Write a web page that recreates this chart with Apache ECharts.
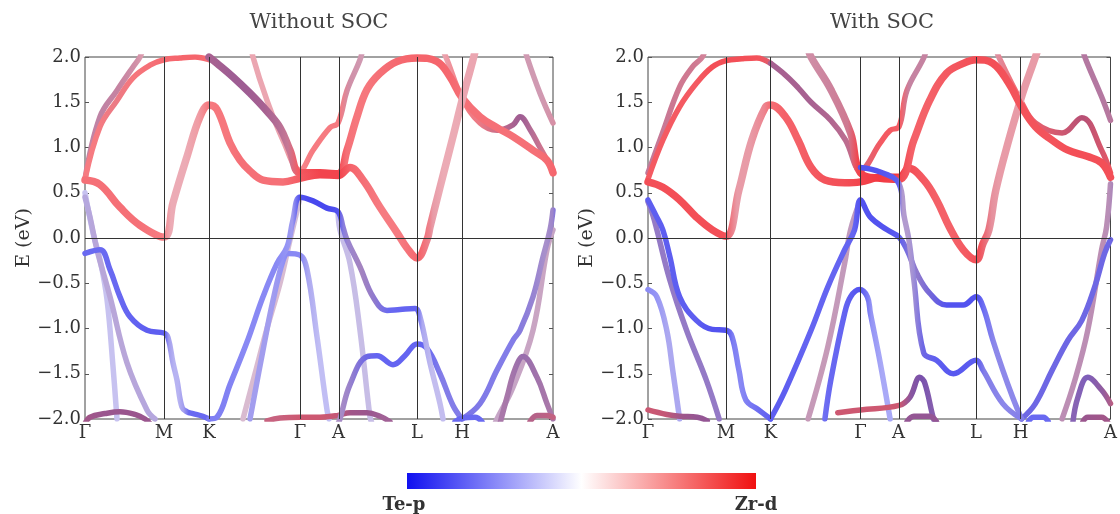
<!DOCTYPE html>
<html><head><meta charset="utf-8">
<script src="https://cdn.jsdelivr.net/npm/echarts@6/dist/echarts.min.js"></script>
<style>html,body{margin:0;padding:0;background:#fff}#c{width:1120px;height:514px}</style>
</head><body><div id="c"></div>
<script>
// ---- axis data ----
const kTicks = [0, 0.79, 1.24, 2.15, 2.535, 3.32, 3.77, 4.68];
const kLabels = ['Γ','M','K','Γ','A','L','H','A'];
const eTicks = [-2, -1.5, -1, -0.5, 0, 0.5, 1, 1.5, 2];
const panelTitles = ['Without SOC', 'With SOC'];
const colorbarLabels = ['Te-p', 'Zr-d'];
const yName = 'E (eV)';
// each point: [k, E (eV), Zr-d weight (0 = Te-p, 1 = Zr-d), intensity]

// ---- Without SOC ----
const n_redLow = [[0,0.64,1,.65],[0.15,0.59,1,.65],[0.35,0.34,1,.65],[0.55,0.14,1,.65],[0.79,0.01,1,.6],
 [0.88,0.39,.9,.38],[1.02,0.9,.9,.38],[1.15,1.34,.95,.45],[1.24,1.47,1,.6],
 [1.32,1.42,1,.62],[1.45,1.05,1,.62],[1.55,0.86,1,.65],[1.65,0.74,1,.65],[1.78,0.64,1,.65],[1.98,0.62,1,.65],[2.15,0.66,1,.75],
 [2.35,0.70,1,.85],[2.53,0.69,1,.85],[2.65,0.78,1,.7],[2.78,0.64,1,.65],[2.95,0.34,1,.6],[3.12,0.06,1,.6],[3.22,-0.11,1,.65],[3.32,-0.22,1,.7],
 [3.42,-0.02,.95,.55],[3.45,0.12,.9,.45],[3.55,0.56,.9,.38],[3.68,1.12,.9,.38],[3.77,1.52,.9,.4],[3.88,1.97,.9,.4],[3.92,2.15,.9,.4]];
const n_purpleTop = [[1.24,2.0,.6,.7],[1.32,1.93,.6,.7],[1.48,1.78,.55,.72],[1.65,1.6,.55,.72],[1.82,1.4,.6,.7],[1.95,1.22,.65,.65],[2.05,0.97,.75,.6],
 [2.15,0.72,1,.75],[2.35,0.72,1,.85],[2.53,0.71,1,.85],[2.62,0.97,1,.65],[2.72,1.34,1,.62],[2.82,1.64,1,.62],[2.95,1.82,1,.65],[3.12,1.95,1,.68],
 [3.32,1.99,1,.7],[3.52,1.95,1,.7],[3.65,1.78,1,.68],[3.77,1.55,1,.65],[3.95,1.34,1,.65],[4.12,1.22,1,.65],[4.28,1.12,1,.65],[4.48,0.97,1,.65],[4.62,0.86,1,.68],[4.68,0.72,1,.7]];
const n_pinkGamma = [[1.66,2.15,.9,.4],[1.68,2.0,.9,.4],[1.82,1.52,.9,.4],[1.98,1.08,.9,.42],[2.15,0.75,1,.55],[2.28,0.97,1,.6],[2.45,1.22,1,.6],[2.53,1.27,1,.6],[2.62,1.63,.75,.5],[2.75,1.97,.7,.45],[2.78,2.1,.7,.45]];
const n_redGM = [[0,0.65,1,.6],[0.15,1.23,1,.6],[0.32,1.52,.95,.6],[0.48,1.77,1,.62],[0.65,1.91,1,.65],[0.79,1.97,1,.68],[0.95,1.99,1,.7],[1.1,2.0,1,.7],[1.24,1.97,1,.65]];
const n_steepGM = [[0,0.65,.7,.55],[0.15,1.34,.65,.55],[0.32,1.63,.7,.55],[0.48,1.89,.75,.5],[0.55,2.0,.8,.45],[0.58,2.1,.8,.45]];
const n_hBump = [[3.55,2.15,.9,.4],[3.62,1.97,.9,.42],[3.77,1.55,1,.6],[3.95,1.27,.95,.6],[4.12,1.19,.8,.65],[4.28,1.25,.6,.7],[4.35,1.34,.55,.72],[4.45,1.2,.65,.65],[4.55,1.0,.8,.62],[4.68,0.75,1,.65]];
const n_topRight = [[4.4,2.1,.7,.45],[4.42,2.0,.7,.45],[4.55,1.6,.7,.45],[4.68,1.27,.8,.5]];
const n_blueB = [[0,-0.17,0,.7],[0.15,-0.13,0,.7],[0.25,-0.35,0,.7],[0.35,-0.65,0,.7],[0.45,-0.87,0,.72],[0.62,-1.02,0,.75],[0.79,-1.05,0,.75],
 [0.83,-1.1,.05,.45],[0.88,-1.38,.05,.35],[0.92,-1.57,.05,.35],[0.97,-1.87,.05,.45],[1.02,-1.92,0,.7],[1.08,-1.94,0,.7],[1.18,-1.97,0,.7],[1.24,-2.0,0,.7]];
const n_blueMain = [[1.24,-2.0,0,.6],[1.32,-1.98,0,.6],[1.45,-1.62,0,.58],[1.62,-1.15,0,.55],[1.78,-0.65,0,.55],[1.92,-0.28,0,.55],[2.02,-0.1,0,.5],[2.08,0.2,.05,.45],
 [2.15,0.45,0,.8],[2.28,0.41,0,.85],[2.42,0.33,0,.85],[2.53,0.29,0,.8],[2.58,0.12,.1,.6],[2.62,-0.02,.2,.55],[2.75,-0.32,.35,.55],[2.88,-0.65,.2,.6],
 [3.02,-0.8,0,.7],[3.15,-0.79,0,.72],[3.30,-0.78,0,.72],[3.35,-0.87,.05,.4],[3.45,-1.38,.1,.3],[3.55,-1.83,.1,.3],[3.58,-2.0,.1,.3]];
const n_gammaDome = [[1.65,-2.0,.05,.45],[1.78,-1.24,.05,.45],[1.88,-0.69,.05,.45],[1.98,-0.25,0,.5],[2.03,-0.17,0,.55],[2.15,-0.19,0,.55],[2.22,-0.35,.05,.4],[2.32,-1.09,.05,.3],[2.42,-1.9,.05,.3],[2.44,-2.0,.05,.3]];
const n_faintKG = [[1.58,-2.0,.6,.3],[1.7,-1.5,.6,.3],[1.82,-1.0,.6,.3],[1.95,-0.5,.6,.3],[2.05,-0.02,.5,.3],[2.12,0.3,.4,.3],[2.15,0.45,.3,.3]];
const n_lightG1 = [[0,0.5,.1,.28],[0.08,0.06,.1,.28],[0.15,-0.24,.1,.28],[0.22,-0.68,.1,.28],[0.28,-1.42,.1,.28],[0.32,-2.0,.1,.28]];
const n_lightG2 = [[0,0.45,.2,.4],[0.05,0.23,.2,.4],[0.12,-0.13,.25,.4],[0.25,-0.65,.25,.4],[0.42,-1.38,.25,.4],[0.62,-1.9,.2,.4],[0.70,-2.0,.2,.4]];
const n_purpleBottomGM = [[0,-2.05,.6,.75],[0.05,-1.98,.6,.75],[0.2,-1.94,.55,.75],[0.35,-1.92,.55,.75],[0.5,-1.95,.55,.75],[0.6,-2.0,.55,.75],[0.65,-2.05,.55,.75]];
const n_redBottomGA = [[1.82,-2.02,.8,.7],[1.95,-1.99,.8,.7],[2.15,-1.98,.85,.75],[2.35,-1.98,.85,.75],[2.53,-1.96,.8,.75],[2.65,-1.93,.6,.75],[2.82,-1.93,.55,.75],[2.95,-1.97,.55,.7],[3.05,-2.03,.55,.7]];
const n_blueAL = [[2.53,-2.05,.35,.5],[2.55,-2.0,.35,.5],[2.65,-1.62,.25,.55],[2.82,-1.31,.05,.7],[2.92,-1.3,0,.72],[3.08,-1.4,0,.72],[3.2,-1.3,0,.72],[3.32,-1.17,0,.72],[3.42,-1.22,0,.7],[3.55,-1.5,.05,.6],[3.68,-1.85,.05,.6],[3.77,-2.0,.05,.6]];
const n_lightA = [[2.53,0.29,.1,.3],[2.55,0.09,.15,.3],[2.65,-0.28,.2,.3],[2.75,-1.02,.2,.3],[2.85,-1.98,.2,.3],[2.87,-2.05,.2,.3]];
const n_blueHA = [[3.77,-2.0,.05,.65],[3.95,-1.83,.05,.62],[4.12,-1.46,.05,.6],[4.28,-1.13,.05,.6],[4.35,-1.02,.1,.6],[4.48,-0.65,.2,.55],[4.58,-0.21,.3,.5],[4.65,0.09,.25,.55],[4.68,0.31,.1,.65]];
const n_purpleHA = [[4.1,-2.05,.5,.4],[4.12,-2.0,.5,.4],[4.28,-1.65,.5,.4],[4.48,-1.02,.55,.4],[4.62,-0.13,.55,.4],[4.68,0.09,.5,.4]];
const n_bumpHA = [[4.15,-2.05,.5,.6],[4.22,-1.76,.5,.6],[4.3,-1.45,.45,.62],[4.38,-1.31,.4,.65],[4.52,-1.54,.45,.62],[4.62,-1.83,.5,.6],[4.68,-2.0,.5,.6]];
const n_bottomH = [[3.7,-2.03,0,.7],[3.77,-1.99,0,.7],[3.9,-1.98,0,.7],[3.97,-2.03,0,.7]];
const n_bottomA = [[4.45,-2.03,.7,.7],[4.52,-1.96,.7,.7],[4.62,-1.96,.75,.7],[4.68,-1.98,.8,.7]];

// ---- With SOC ----
const s_redLow = [[0,0.62,1,.8],[0.15,0.56,1,.8],[0.32,0.42,1,.8],[0.49,0.23,1,.8],[0.65,0.09,1,.8],[0.79,0.02,1,.8],[0.92,0.53,.9,.45],[1.05,1.08,.9,.45],[1.19,1.45,.95,.55],[1.24,1.47,1,.65],
 [1.39,1.34,1,.72],[1.52,1.08,1,.72],[1.65,0.78,1,.75],[1.79,0.64,1,.78],[1.99,0.61,1,.8],[2.15,0.62,1,.85],[2.35,0.67,1,.9],[2.54,0.67,1,.9],[2.64,0.77,1,.8],[2.79,0.64,1,.75],
 [2.92,0.42,1,.72],[3.05,0.12,1,.72],[3.19,-0.13,1,.75],[3.32,-0.24,1,.8],[3.39,-0.06,.95,.65],[3.45,0.09,.9,.5],[3.52,0.53,.9,.45],[3.65,1.08,.9,.45],[3.78,1.56,.9,.45],[3.92,2.0,.9,.45],[3.95,2.1,.9,.45]];
const s_blueSoc = [[2.15,0.78,0,.8],[2.35,0.73,0,.8],[2.54,0.6,0,.75],[2.59,0.25,.3,.45],[2.64,-0.02,.3,.45],[2.69,-0.46,.2,.5],[2.79,-1.27,.05,.7],[2.92,-1.35,0,.75],[3.09,-1.5,0,.78],[3.32,-1.35,0,.75],[3.39,-1.46,.05,.6],[3.59,-1.83,.05,.55],[3.78,-2.0,.05,.6]];
const s_purpleKG = [[1.24,1.93,.6,.7],[1.39,1.8,.6,.7],[1.52,1.66,.6,.7],[1.65,1.5,.6,.7],[1.85,1.3,.65,.68],[2.0,1.08,.7,.65],[2.15,0.75,.9,.7],[2.35,1.05,1,.75],[2.45,1.19,1,.75],[2.54,1.23,1,.72],[2.62,1.63,.7,.55],[2.79,1.99,.7,.55],[2.82,2.1,.7,.55]];
const s_dome = [[1.62,2.1,.75,.5],[1.65,2.0,.75,.5],[1.85,1.64,.75,.55],[2.05,1.16,.8,.6],[2.15,0.72,1,.85],[2.35,0.66,1,.9],[2.54,0.65,1,.85],[2.69,1.08,1,.72],[2.85,1.52,1,.72],[3.02,1.82,1,.75],[3.19,1.93,1,.78],
 [3.32,1.97,1,.8],[3.49,1.93,1,.8],[3.65,1.71,1,.78],[3.78,1.45,1,.78],[3.92,1.23,1,.78],[4.09,1.08,1,.78],[4.25,0.97,1,.8],[4.45,0.9,1,.8],[4.59,0.83,1,.8],[4.68,0.67,1,.8]];
const s_redGM = [[0,0.65,1,.75],[0.15,1.08,1,.75],[0.32,1.45,1,.75],[0.49,1.71,1,.75],[0.65,1.89,1,.8],[0.79,1.96,1,.8],[0.95,1.98,1,.8],[1.1,1.99,1,.78],[1.24,1.93,.9,.72]];
const s_steepGM = [[0,0.72,.7,.6],[0.15,1.17,.75,.6],[0.32,1.67,.8,.6],[0.45,1.89,.8,.6],[0.55,2.0,.8,.55],[0.58,2.1,.8,.55]];
const s_hBump = [[3.52,2.1,.85,.5],[3.55,2.0,.85,.5],[3.78,1.5,1,.7],[3.92,1.27,.95,.72],[4.19,1.16,.85,.75],[4.39,1.33,.75,.78],[4.59,0.97,.9,.75],[4.68,0.72,1,.78]];
const s_topRight = [[4.40,2.1,.6,.6],[4.42,2.0,.6,.6],[4.59,1.56,.6,.6],[4.68,1.3,.65,.6]];
const s_blueGM = [[0,0.42,0,.75],[0.08,0.25,0,.75],[0.15,0.09,0,.75],[0.22,-0.2,0,.75],[0.32,-0.65,0,.75],[0.49,-0.91,0,.75],[0.65,-1.01,0,.8],[0.79,-1.02,0,.8],
 [0.85,-1.09,0,.6],[0.92,-1.46,0,.55],[0.99,-1.79,0,.6],[1.12,-1.9,0,.7],[1.24,-2.0,0,.75]];
const s_purpleGM = [[0,0.4,.25,.6],[0.05,0.25,.25,.6],[0.09,0.09,.25,.6],[0.22,-0.46,.25,.6],[0.39,-1.02,.25,.6],[0.59,-1.57,.25,.6],[0.72,-2.0,.25,.6]];
const s_lightG = [[0,-0.57,0,.55],[0.09,-0.65,0,.5],[0.19,-1.02,.05,.4],[0.25,-1.46,.05,.4],[0.32,-2.0,.05,.4]];
const s_redBottomGM = [[0,-1.9,.85,.75],[0.19,-1.95,.8,.75],[0.32,-1.97,.6,.75],[0.5,-1.98,.5,.75],[0.6,-2.02,.5,.75]];
const s_blueMain = [[1.24,-2.0,0,.75],[1.39,-1.68,0,.75],[1.65,-1.02,0,.72],[1.82,-0.54,0,.72],[1.99,-0.13,0,.72],[2.09,0.09,0,.72],[2.15,0.42,0,.8],[2.25,0.23,0,.8],[2.42,0.09,0,.8],[2.54,0.01,0,.75],
 [2.62,-0.13,.1,.65],[2.72,-0.39,.2,.6],[2.85,-0.61,.1,.7],[3.02,-0.74,0,.8],[3.19,-0.74,0,.8],[3.32,-0.65,0,.8],[3.39,-0.76,0,.65],[3.49,-1.13,.05,.55],[3.59,-1.46,.05,.55],[3.69,-1.76,.05,.55],[3.78,-2.0,.05,.6]];
const s_faintKG = [[1.62,-2.0,.6,.45],[1.82,-1.2,.6,.45],[1.99,-0.28,.55,.45],[2.05,0.09,.5,.45],[2.15,0.42,.4,.5]];
const s_gammaDome = [[1.79,-2.0,0,.65],[1.85,-1.57,0,.7],[1.99,-0.83,0,.72],[2.05,-0.65,0,.75],[2.14,-0.57,0,.8],[2.22,-0.65,0,.6],[2.25,-0.83,0,.5],[2.35,-1.38,0,.4],[2.45,-2.0,0,.4]];
const s_redBottomGA = [[1.92,-1.93,.85,.75],[2.15,-1.9,.85,.75],[2.54,-1.85,.85,.75],[2.65,-1.76,.4,.75],[2.75,-1.54,.3,.78],[2.8,-1.6,.3,.75],[2.89,-2.0,.35,.7],[2.92,-2.05,.35,.7]];
const s_bottomAL = [[2.62,-2.03,.5,.75],[2.69,-1.97,.5,.75],[2.85,-1.97,.5,.75],[2.92,-2.03,.5,.75]];
const s_blueHA = [[3.78,-2.0,.05,.7],[3.92,-1.83,.05,.7],[4.09,-1.46,.05,.7],[4.25,-1.13,.05,.7],[4.39,-0.91,.05,.7],[4.52,-0.54,.05,.7],[4.62,-0.17,.05,.7],[4.68,-0.02,.05,.7]];
const s_purpleHA = [[4.19,-2.0,.55,.5],[4.32,-1.57,.55,.5],[4.45,-1.02,.55,.5],[4.59,-0.13,.55,.5],[4.64,0.12,.5,.5],[4.68,0.6,.4,.55]];
const s_bumpHA = [[4.3,-2.03,.3,.7],[4.35,-1.76,.3,.7],[4.45,-1.54,.25,.72],[4.59,-1.68,.45,.72],[4.68,-1.83,.75,.72]];
const s_bottomH = [[3.85,-2.03,0,.7],[3.9,-1.98,0,.7],[4.0,-1.98,0,.7],[4.05,-2.03,0,.7]];
const s_bottomA = [[4.4,-2.03,.55,.75],[4.45,-1.98,.55,.75],[4.59,-1.98,.6,.75],[4.65,-2.03,.6,.75]];

// drawing order: later bands are drawn on top
const noSocBands = [n_lightG1,n_faintKG,n_lightA,n_purpleHA,n_lightG2,n_gammaDome,n_steepGM,n_pinkGamma,n_topRight,n_hBump,n_redGM,
  n_purpleBottomGM,n_redBottomGA,n_blueAL,n_blueHA,n_bumpHA,n_bottomH,n_bottomA,n_blueB,n_blueMain,n_purpleTop,n_redLow];
const socBands = [s_lightG,s_faintKG,s_purpleHA,s_topRight,s_steepGM,s_purpleGM,s_gammaDome,s_redBottomGM,s_redBottomGA,s_bottomAL,
  s_blueHA,s_bumpHA,s_bottomH,s_bottomA,s_blueGM,s_blueMain,s_hBump,s_redGM,s_purpleKG,s_redLow,s_dome,s_blueSoc];
const thickBands = [n_redLow, n_purpleTop, s_redLow, s_dome];

// ---- build ----
const FONT = '"DejaVu Serif", "Liberation Serif", serif';
function bandColor(w, a) {
  const blue = [40, 40, 235], red = [240, 35, 45];
  const dark = 1 - 0.8 * w * (1 - w);
  const c = blue.map((b, i) => (b + (red[i] - b) * w) * dark);
  return 'rgb(' + c.map(v => Math.round(255 * (1 - a) + v * a)).join(',') + ')';
}
function makeBand(pts, idx, order) {
  const k0 = pts[0][0], k1 = pts[pts.length - 1][0];
  const stops = pts.map(p => ({ offset: (p[0] - k0) / (k1 - k0), color: bandColor(p[2], p[3]) }));
  return {
    type: 'line', xAxisIndex: idx, yAxisIndex: idx * 2,
    data: pts.map(p => [p[0], p[1]]),
    showSymbol: false, symbol: 'none', smooth: 0.4, clip: true,
    silent: true, animation: false, z: 3 + order * 0.01,
    lineStyle: { width: thickBands.includes(pts) ? 7.5 : 5.5, cap: 'round', join: 'round',
      color: { type: 'linear', x: 0, y: 0, x2: 1, y2: 0, colorStops: stops } }
  };
}
const gridsDef = [{ left: 85, width: 468, bands: noSocBands }, { left: 648, width: 469, bands: socBands }];
const grids = [], xAxes = [], yAxes = [], series = [];
const fmtE = v => (v < 0 ? '\u2212' : '') + Math.abs(v).toFixed(1);
gridsDef.forEach((g, i) => {
  grids.push({ left: g.left, top: 57, width: g.width, height: 362, show: true, borderColor: '#444', borderWidth: 1, backgroundColor: 'transparent' });
  xAxes.push({ type: 'value', gridIndex: i, min: 0, max: 4.68,
    axisLine: { show: false }, axisTick: { show: false }, splitLine: { show: false },
    axisLabel: { customValues: kTicks, formatter: v => kLabels[kTicks.indexOf(v)], margin: 5,
      fontFamily: FONT, fontSize: 18, color: '#333' } });
  yAxes.push({ type: 'value', gridIndex: i, min: eTicks[0], max: eTicks[eTicks.length - 1], interval: 0.5, position: 'left',
    name: yName, nameLocation: 'middle', nameGap: 40, nameRotate: 90,
    nameTextStyle: { fontFamily: FONT, fontSize: 19, color: '#333' },
    axisLine: { show: false }, axisTick: { show: true, inside: true, length: 4, lineStyle: { color: '#555' } },
    splitLine: { show: false },
    axisLabel: { formatter: fmtE, margin: 4, fontFamily: FONT, fontSize: 18, color: '#333' } });
  yAxes.push({ type: 'value', gridIndex: i, min: eTicks[0], max: eTicks[eTicks.length - 1], interval: 0.5, position: 'right',
    axisLine: { show: false }, axisTick: { show: true, inside: true, length: 4, lineStyle: { color: '#555' } },
    splitLine: { show: false }, axisLabel: { show: false } });
  // reference lines at high-symmetry points and the Fermi level
  series.push({ type: 'line', xAxisIndex: i, yAxisIndex: i * 2, data: [], silent: true, animation: false, z: 1,
    markLine: { silent: true, symbol: ['none', 'none'], animation: false, label: { show: false },
      lineStyle: { color: '#333', width: 1, type: 'solid' },
      data: kTicks.slice(1, -1).map(k => ({ xAxis: k })).concat([{ yAxis: 0 }]) } });
  g.bands.forEach((b, j) => series.push(makeBand(b, i, j)));
});

const graphics = [
  { type: 'text', x: 319, y: 23, style: { text: panelTitles[0], font: '21px ' + FONT, fill: '#444', align: 'center', verticalAlign: 'middle' } },
  { type: 'text', x: 882, y: 23, style: { text: panelTitles[1], font: '21px ' + FONT, fill: '#444', align: 'center', verticalAlign: 'middle' } },
  { type: 'rect', shape: { x: 407, y: 473, width: 349, height: 16 },
    style: { fill: { type: 'linear', x: 0, y: 0, x2: 1, y2: 0, colorStops: [
      { offset: 0, color: '#1010f0' }, { offset: 0.5, color: '#ffffff' }, { offset: 1, color: '#f01010' }] } } },
  { type: 'text', x: 404, y: 505, style: { text: colorbarLabels[0], font: 'bold 18px ' + FONT, fill: '#333', align: 'center', verticalAlign: 'middle' } },
  { type: 'text', x: 756, y: 505, style: { text: colorbarLabels[1], font: 'bold 18px ' + FONT, fill: '#333', align: 'center', verticalAlign: 'middle' } }
];

const chart = echarts.init(document.getElementById('c'), null, { renderer: 'canvas' });
chart.setOption({
  animation: false, backgroundColor: '#fff',
  grid: grids, xAxis: xAxes, yAxis: yAxes, series: series, graphic: graphics
});
</script></body></html>
